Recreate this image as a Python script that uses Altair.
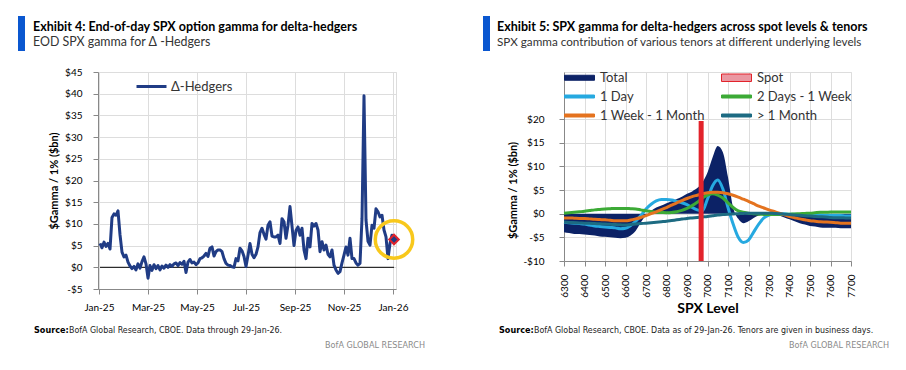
import json
import altair as alt
import pandas as pd

# ---------------- Left panel data (Exhibit 4) ----------------
LEFT_SERIES = "Δ-Hedgers"
LEFT_VALUES = [
    5.5, 4.5, 5.8, 4.8, 5.5, 4.2, 11.5, 12.3, 12.0, 13.0,
    7.5, 3.5, 2.4, 2.8, 1.2, 0.3, -0.3, 0.2, -0.6, 0.8,
    -0.2, 1.3, 2.4, 0.8, -2.5, 0.4, -0.7, 0.6, -0.3, 0.4,
    -0.6, 0.3, -0.2, 0.5, 0.0, 0.6, 0.2, 0.8, 1.0, 0.4,
    1.1, 0.7, 1.4, -1.2, 1.2, 1.8, 1.0, 1.2, 0.6, 1.0,
    2.0, 2.2, 2.6, 3.2, 2.5, 4.4, 4.7, 2.6, 3.6, 4.0,
    4.0, 3.6, 2.0, 0.9, 0.5, 0.4, 0.1, 0.0, 2.0, 1.5,
    4.4, 3.8, 2.5, 0.2, 2.8, 5.5, 3.0, 2.2, 3.0, 4.7,
    8.0, 9.0, 7.6, 6.5, 9.7, 10.5, 7.2, 7.0, 7.0, 7.4,
    5.5, 11.2, 10.5, 6.7, 9.7, 14.0, 9.5, 5.0, 8.5, 9.3,
    7.4, 9.0, 4.0, 2.0, 6.7, 4.7, 10.1, 9.5, 10.1, 8.6,
    3.6, 5.9, 4.0, 5.1, 3.0, 2.4, 4.0, 0.5, -0.6, -1.4,
    -1.0, 1.0, 2.8, 4.7, 2.8, 6.7, 2.0, 2.0, 1.0, 0.5,
    0.9, 11.2, 39.5, 10.9, 6.0, 5.1, 9.7, 9.0, 13.5, 12.8,
    11.6, 12.0, 8.6, 7.0, 2.0, 5.5, 7.4, 6.4,
]
LEFT_TICK_LABELS = ["Jan-25", "Mar-25", "May-25", "Jul-25", "Sep-25", "Nov-25", "Jan-26"]
LEFT_TICK_POS = [-0.5, 24, 48.5, 73, 97.5, 122, 146.5]
LEFT_Y_TICKS = [-5, 0, 5, 10, 15, 20, 25, 30, 35, 40, 45]

LEFT_TITLE = "Exhibit 4: End-of-day SPX option gamma for delta-hedgers"
LEFT_SUBTITLE = "EOD SPX gamma for  Δ -Hedgers"
LEFT_SOURCE = "BofA Global Research, CBOE. Data through 29-Jan-26."

# ---------------- Right panel data (Exhibit 5) ----------------
LEVELS = list(range(6300, 7701, 25))
TICK_LEVELS = list(range(6300, 7701, 100))
RIGHT_Y_TICKS = [-10, -5, 0, 5, 10, 15, 20]
TOTAL = [
    -3.9, -4.1, -4.3, -4.3, -4.4, -4.5, -4.6, -4.8, -4.9, -5.0,
    -5.1, -5.2, -5.1, -4.6, -3.6, -1.8, -0.4, 0.6, 1.3, 1.7,
    2.2, 2.6, 3.1, 3.6, 4.2, 4.7, 5.4, 6.6, 8.7, 11.9,
    14.3, 13.0, 7.7, 1.3, -1.1, -2.0, -1.6, -0.9, -0.4, -0.1,
    -0.1, -0.2, -0.4, -0.8, -1.2, -1.6, -2.0, -2.3, -2.6, -2.7,
    -2.9, -3.0, -3.0, -3.0, -3.1, -3.1, -3.1,
]
ONE_DAY = [
    -1.8, -1.9, -2.0, -2.1, -2.2, -2.4, -2.6, -2.7, -2.8, -2.9,
    -3.0, -3.2, -3.1, -2.5, -1.6, -0.4, 1.0, 2.0, 2.7, 3.0,
    3.0, 2.9, 2.6, 2.3, 1.9, 1.3, 0.8, 0.6, 3.1, 5.9,
    7.1, 5.2, 1.3, -2.2, -5.0, -6.1, -5.6, -3.9, -2.2, -0.9,
    -0.3, -0.1, 0.0, 0.0, -0.1, -0.1, -0.2, -0.2, -0.3, -0.3,
    -0.3, -0.4, -0.4, -0.4, -0.4, -0.5, -0.5,
]
TWO_DAYS_1W = [
    0.1, 0.2, 0.3, 0.4, 0.5, 0.65, 0.8, 0.9, 1.0, 1.05,
    1.1, 1.1, 1.1, 1.05, 1.0, 0.8, 0.6, 0.45, 0.3, 0.25,
    0.2, 0.25, 0.4, 0.7, 1.1, 1.7, 2.4, 3.3, 3.9, 4.2,
    3.9, 3.3, 2.3, 1.3, 0.6, 0.3, 0.1, 0.0, -0.1, -0.15,
    -0.2, -0.2, -0.2, -0.15, -0.1, -0.05, 0.0, 0.05, 0.1, 0.2,
    0.3, 0.3, 0.35, 0.35, 0.35, 0.35, 0.35,
]
ONE_W_1M = [
    -0.9, -0.9, -0.95, -1.0, -1.0, -1.1, -1.2, -1.25, -1.3, -1.4,
    -1.5, -1.5, -1.5, -1.35, -1.1, -0.8, -0.4, 0.0, 0.4, 0.85,
    1.3, 1.8, 2.3, 2.75, 3.2, 3.6, 3.9, 4.2, 4.4, 4.5,
    4.5, 4.4, 4.2, 3.9, 3.5, 3.05, 2.6, 2.1, 1.6, 1.2,
    0.8, 0.45, 0.1, -0.25, -0.6, -0.85, -1.1, -1.3, -1.5, -1.6,
    -1.7, -1.75, -1.8, -1.9, -2.0, -2.0, -2.0,
]
GT_1M = [
    -1.8, -1.85, -1.9, -1.95, -2.0, -2.05, -2.1, -2.15, -2.2, -2.25,
    -2.3, -2.35, -2.4, -2.3, -2.2, -2.1, -2.0, -1.9, -1.8, -1.7,
    -1.6, -1.45, -1.3, -1.15, -1.0, -0.9, -0.8, -0.7, -0.6, -0.45,
    -0.3, -0.2, -0.1, -0.05, 0.0, 0.05, 0.1, 0.1, 0.1, 0.1,
    0.1, 0.05, 0.0, -0.1, -0.2, -0.3, -0.35, -0.45, -0.5, -0.6,
    -0.65, -0.7, -0.8, -0.85, -0.85, -0.9, -0.9,
]
SPOT_LEVEL = [6969]
SPOT_TOP = [19.6]
SPOT_BOTTOM = [-10]

LEGEND_ORDER = ["Total", "Spot", "1 Day", "2 Days - 1 Week", "1 Week - 1 Month", "> 1 Month"]
RIGHT_TITLE = "Exhibit 5: SPX gamma for delta-hedgers across spot levels & tenors"
RIGHT_SUBTITLE = "SPX gamma contribution of various tenors at different underlying levels"
RIGHT_SOURCE = "BofA Global Research, CBOE. Data as of 29-Jan-26. Tenors are given in business days."
BRAND = "BofA GLOBAL RESEARCH"

# ---------------- Styles ----------------
NAVY = "#203c85"
TOTAL_C = "#0c2266"
RED = "#e2232b"
PINK = "#ea98a2"
LBLUE = "#26a9e0"
GREEN = "#3caa36"
ORANGE = "#e4731f"
TEAL = "#1d6b82"
BLUE_BAR = "#0a57d0"
FONT = "Lato"
NARROW = "Liberation Sans Narrow, DejaVu Sans Condensed, sans-serif"

DOLLAR = "datum.value < 0 ? '-$' + abs(datum.value) : '$' + datum.value"

# Right legend position relative to left panel plot origin (legends sit at the root)
RIGHT_LEGEND_X = 465


def text_layer(txt, x, y, size, weight="normal", color="#111", align="left", font=FONT):
    return alt.Chart(pd.DataFrame({"t": [txt]})).mark_text(
        align=align, baseline="alphabetic", font=font, fontSize=size,
        fontWeight=weight, color=color,
    ).encode(text="t:N", x=alt.value(x), y=alt.value(y))


def bar_layer(x):
    return alt.Chart(pd.DataFrame({"k": [0]})).mark_rect(color=BLUE_BAR).encode(
        x=alt.value(x), x2=alt.value(x + 7), y=alt.value(-56), y2=alt.value(-21)
    )


# ---------------- Left chart ----------------
left_df = pd.DataFrame({"i": list(range(len(LEFT_VALUES))), "v": LEFT_VALUES, "series": LEFT_SERIES})
last_df = left_df.tail(1)
zero_df = pd.DataFrame({"i": [0], "i2": [len(LEFT_VALUES) - 1], "v": [0]})

xs1 = alt.Scale(domain=[-1, len(LEFT_VALUES)], nice=False, zero=False)
ys1 = alt.Scale(domain=[-5, 45], nice=False)
x_label_expr = "{}[indexof({}, datum.value)]".format(json.dumps(LEFT_TICK_LABELS), json.dumps(LEFT_TICK_POS))

left_line = alt.Chart(left_df).mark_line(strokeWidth=3, strokeJoin="round").encode(
    x=alt.X("i:Q", scale=xs1, axis=alt.Axis(values=LEFT_TICK_POS, labelExpr=x_label_expr,
                                            title=None, labelPadding=8, labelFlush=False,
                                            labelOverlap=False, tickCount=50)),
    y=alt.Y("v:Q", scale=ys1, axis=alt.Axis(values=LEFT_Y_TICKS, labelExpr=DOLLAR,
                                            title="$Gamma / 1% ($bn)", titlePadding=5,
                                            labelPadding=11, labelOverlap=False,
                                            labelFlush=False, tickCount=50)),
    color=alt.Color("series:N", scale=alt.Scale(range=[NAVY]),
                    legend=alt.Legend(title=None, orient="none", legendX=37, legendY=8,
                                      symbolType="M-1,0L5,0", symbolStrokeWidth=3,
                                      symbolSize=100, labelOffset=23, labelFontSize=13,
                                      labelFont=FONT, labelColor="#333", padding=0)),
)
zero_rule = alt.Chart(zero_df).mark_rule(color="black", strokeWidth=1).encode(
    x="i:Q", x2="i2:Q", y="v:Q"
)
ring = alt.Chart(last_df).mark_point(shape="circle", filled=False, stroke="#f8c81c",
                                     strokeWidth=3.5, size=1400, opacity=1).encode(x="i:Q", y="v:Q")
diamond = alt.Chart(last_df).mark_point(shape="diamond", filled=True, fill=NAVY, stroke=RED,
                                        strokeWidth=2, size=90, opacity=1).encode(x="i:Q", y="v:Q")

left = alt.layer(
    zero_rule, left_line, ring, diamond,
    bar_layer(-80),
    text_layer(LEFT_TITLE, -65, -41, 12.5, "bold", "#000"),
    text_layer(LEFT_SUBTITLE, -65, -26, 12.4, "normal", "#333"),
    text_layer("Source:", -64, 261, 9, "bold", "#000", font=NARROW),
    text_layer(LEFT_SOURCE, -29, 261, 8.8, "normal", "#222", font=NARROW),
    text_layer(BRAND, 327, 276, 9, "normal", "#8a8a8a", align="right", font=NARROW),
).properties(width=298, height=217)

# ---------------- Right chart ----------------
rows = []
for name, vals in [("Total", TOTAL), ("1 Day", ONE_DAY), ("2 Days - 1 Week", TWO_DAYS_1W),
                   ("1 Week - 1 Month", ONE_W_1M), ("> 1 Month", GT_1M)]:
    for lv, v in zip(LEVELS, vals):
        rows.append({"series": name, "level": lv, "value": v})
right_df = pd.DataFrame(rows)

xs2 = alt.Scale(domain=[LEVELS[0], LEVELS[-1]], nice=False, zero=False)
ys2 = alt.Scale(domain=[-10, 29.93], nice=False)

total_area = alt.Chart(right_df).transform_filter(alt.datum.series == "Total").mark_area(
    interpolate="monotone", color=TOTAL_C, opacity=1
).encode(
    x=alt.X("level:Q", scale=xs2, axis=alt.Axis(values=TICK_LEVELS, format="d", labelAngle=270,
                                                title="SPX Level", titlePadding=4, labelPadding=8,
                                                titleFontSize=14, labelOverlap=False,
                                                labelFlush=False, tickCount=50)),
    y=alt.Y("value:Q", scale=ys2, axis=alt.Axis(values=RIGHT_Y_TICKS, labelExpr=DOLLAR,
                                                title="$Gamma / 1% ($bn)", titleY=118,
                                                titlePadding=4, labelPadding=15,
                                                labelOverlap=False, labelFlush=False,
                                                tickCount=50)),
)


def series_line(name, color):
    return alt.Chart(right_df).transform_filter(alt.datum.series == name).mark_line(
        interpolate="monotone", color=color, strokeWidth=3
    ).encode(x="level:Q", y="value:Q")


spot_df = pd.DataFrame({"level": SPOT_LEVEL, "value": SPOT_TOP, "value2": SPOT_BOTTOM})
spot_rule = alt.Chart(spot_df).mark_rule(color=RED, strokeWidth=5).encode(
    x="level:Q", y="value:Q", y2="value2:Q"
)

LINE_PATH = "M-1,-0.3L5,-0.3L5,0.3L-1,0.3Z"
TOTAL_PATH = "M-1,-0.5L5,-0.5L5,0.5L-1,0.5Z"
SPOT_PATH = "M-1,-0.75L5,-0.75L5,0.75L-1,0.75Z"
legend_df = pd.DataFrame({"series": LEGEND_ORDER})
leg_kw = dict(domain=LEGEND_ORDER)
legend_layer = alt.Chart(legend_df).mark_point(filled=True, size=100, opacity=1, clip=True).encode(
    x=alt.value(-3000), y=alt.value(-3000),
    fill=alt.Fill("series:N", scale=alt.Scale(range=[TOTAL_C, PINK, LBLUE, GREEN, ORANGE, TEAL], **leg_kw),
                  sort=LEGEND_ORDER,
                  legend=alt.Legend(title=None, orient="none", legendX=RIGHT_LEGEND_X, legendY=-1,
                                    columns=2, direction="horizontal",
                                    columnPadding=14, rowPadding=5, symbolSize=100,
                                    symbolStrokeWidth=1, labelOffset=24, labelFontSize=13,
                                    labelFont=FONT, labelColor="#333", padding=0)),
    stroke=alt.Stroke("series:N", scale=alt.Scale(range=[TOTAL_C, RED, LBLUE, GREEN, ORANGE, TEAL], **leg_kw),
                      sort=LEGEND_ORDER),
    shape=alt.Shape("series:N", scale=alt.Scale(range=[TOTAL_PATH, SPOT_PATH, LINE_PATH, LINE_PATH,
                                                       LINE_PATH, LINE_PATH], **leg_kw),
                    sort=LEGEND_ORDER),
)

right = alt.layer(
    total_area,
    series_line("1 Day", LBLUE),
    series_line("2 Days - 1 Week", GREEN),
    series_line("1 Week - 1 Month", ORANGE),
    series_line("> 1 Month", TEAL),
    spot_rule,
    legend_layer,
    bar_layer(-81),
    text_layer(RIGHT_TITLE, -67, -41, 12.5, "bold", "#000"),
    text_layer(RIGHT_SUBTITLE, -67, -26, 11.7, "normal", "#333"),
    text_layer("Source:", -65, 261, 9, "bold", "#000", font=NARROW),
    text_layer(RIGHT_SOURCE, -30, 261, 8.8, "normal", "#222", font=NARROW),
    text_layer(BRAND, 325, 276, 9, "normal", "#8a8a8a", align="right", font=NARROW),
).properties(width=287, height=189)

chart = alt.hconcat(left, right, spacing=56).properties(
    padding={"left": 9, "top": 7, "right": 2, "bottom": 0}
).configure_view(stroke=None).configure_axis(
    domain=False, ticks=False, grid=False, labelOverlap=False,
    labelFont=FONT, labelFontSize=13, labelColor="#333",
    titleFont=FONT, titleFontSize=13, titleFontWeight="bold", titleColor="#000",
).configure(font=FONT)

chart.save("out.html", embed_options={"renderer": "svg", "actions": False})
